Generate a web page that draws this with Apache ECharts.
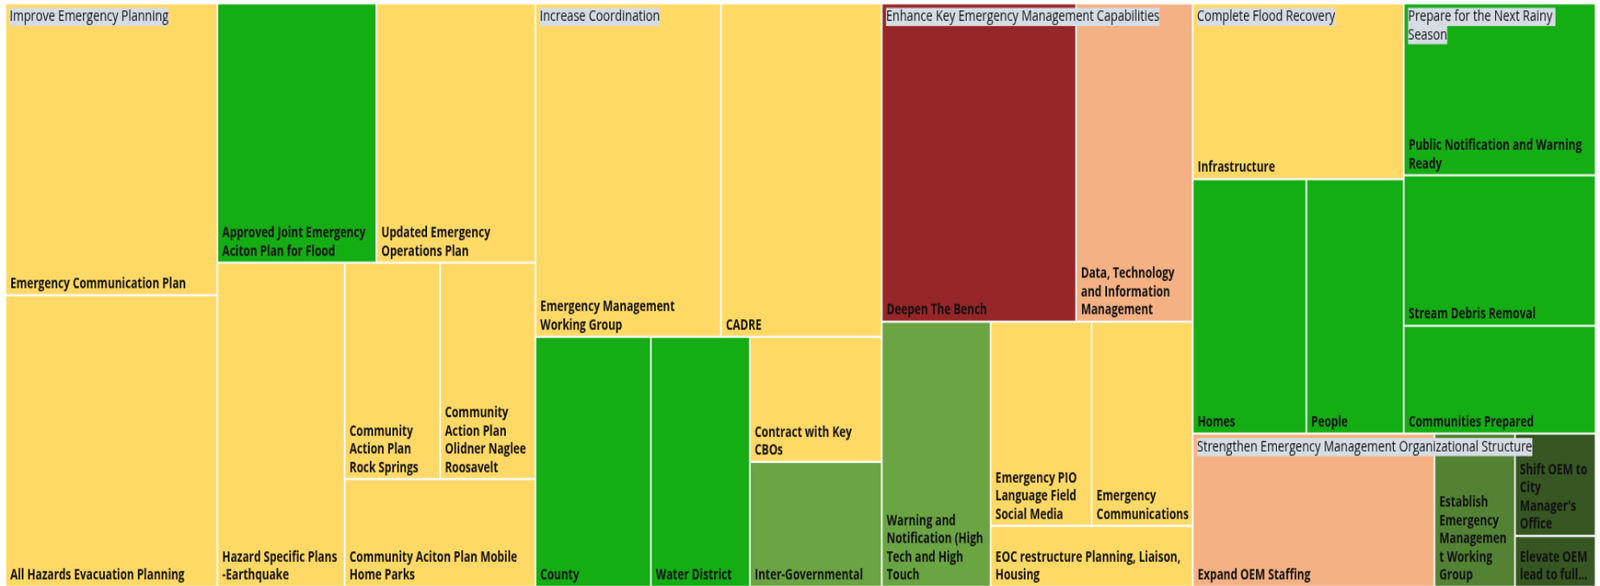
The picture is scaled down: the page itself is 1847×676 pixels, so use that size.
<!DOCTYPE html>
<html>
<head>
<meta charset="utf-8">
<title>Emergency Management Work Plan</title>
<script src="https://cdn.jsdelivr.net/npm/echarts@6.0.0/dist/echarts.min.js"></script>
<style>
  html, body { margin: 0; padding: 0; background: #fff; overflow: hidden; }
  #wrap { width: 1847px; height: 676px; overflow: hidden; }
  /* the reference picture is squeezed sideways, so draw wide and scale */
  #chart { width: 1987px; height: 564px; transform: scale(0.93, 1.2); transform-origin: 0 0; }
</style>
</head>
<body>
<div id="wrap"><div id="chart"></div></div>
<script>
const groupNames = [
  'Improve Emergency Planning',
  'Increase Coordination',
  'Enhance Key Emergency Management Capabilities',
  'Complete Flood Recovery',
  'Prepare for the Next Rainy Season',
  'Strengthen Emergency Management Organizational Structure'
];

const planningNames = ['Emergency Communication Plan', 'All Hazards Evacuation Planning',
  'Approved Joint Emergency Aciton Plan for Flood', 'Updated Emergency Operations Plan',
  'Hazard Specific Plans -Earthquake', 'Community Action Plan Rock Springs',
  'Community Action Plan Olidner Naglee Roosavelt', 'Community Aciton Plan Mobile Home Parks'];
const planningValues = [15, 15, 10, 10, 10, 5, 5, 5];
const planningStatus = ['Y', 'Y', 'G', 'Y', 'Y', 'Y', 'Y', 'Y'];

const coordinationNames = ['Emergency Management Working Group', 'CADRE', 'County', 'Water District',
  'Contract with Key CBOs', 'Inter-Governmental'];
const coordinationValues = [15, 13, 7, 6, 4, 4];
const coordinationStatus = ['Y', 'Y', 'G', 'G', 'Y', 'L'];

const capabilityNames = ['Deepen The Bench', 'Data, Technology and Information Management',
  'Warning and Notification (High Tech and High Touch', 'Emergency PIO Language Field Social Media',
  'Emergency Communications', 'EOC restructure Planning, Liaison, Housing'];
const capabilityValues = [15, 9, 7, 5, 5, 3];
const capabilityStatus = ['R', 'O', 'L', 'Y', 'Y', 'Y'];

const recoveryNames = ['Infrastructure', 'Homes', 'People'];
const recoveryValues = [9, 7, 6];
const recoveryStatus = ['Y', 'G', 'G'];

const rainyNames = ['Public Notification and Warning Ready', 'Stream Debris Removal', 'Communities Prepared'];
const rainyValues = [8, 7, 5];
const rainyStatus = ['G', 'G', 'G'];

const structureNames = ['Expand OEM Staffing', 'Establish Emergency Management Working Group',
  "Shift OEM to City Manager's Office", 'Elevate OEM lead to full...'];
const structureValues = [9, 3, 2, 1];
const structureStatus = ['O', 'M', 'D', 'D'];

const statusColors = {
  G: '#14AD14', Y: '#FFD966', O: '#F4B183', R: '#962627',
  L: '#6AA443', M: '#548235', D: '#375623'
};

function leaves(names, values, status) {
  return names.map((n, i) => ({ name: n, value: values[i], itemStyle: { color: statusColors[status[i]] } }));
}

const groupLeaves = [
  leaves(planningNames, planningValues, planningStatus),
  leaves(coordinationNames, coordinationValues, coordinationStatus),
  leaves(capabilityNames, capabilityValues, capabilityStatus),
  leaves(recoveryNames, recoveryValues, recoveryStatus),
  leaves(rainyNames, rainyValues, rainyStatus),
  leaves(structureNames, structureValues, structureStatus)
];
const treeData = groupNames.map((g, i) => ({ name: g, children: groupLeaves[i] }));
const groupTotals = groupLeaves.map(arr => arr.reduce((s, d) => s + d.value, 0));
const labelData = groupNames.map((g, i) => ({ name: g, value: groupTotals[i], itemStyle: { color: 'rgba(0,0,0,0)' } }));

const box = { left: 7.63, top: 4.17, width: 1971.9, height: 559.2 };
const squareRatio = 1.033;

const option = {
  animation: false,
  series: [
    {
      type: 'treemap',
      z: 1,
      left: box.left, top: box.top, width: box.width, height: box.height,
      squareRatio: squareRatio,
      sort: false,
      roam: false,
      nodeClick: false,
      breadcrumb: { show: false },
      itemStyle: { borderWidth: 0, gapWidth: 2, borderColor: '#fff' },
      upperLabel: { show: false },
      label: {
        show: true,
        position: 'insideBottomLeft',
        distance: 0,
        padding: [0, 4, 1, 5],
        color: '#111',
        fontFamily: 'Open Sans',
        fontWeight: 'bold',
        fontSize: 13.5,
        lineHeight: 17.5,
        overflow: 'break'
      },
      levels: [
        { itemStyle: { borderWidth: 0, gapWidth: 2, borderColor: '#fff' } },
        { itemStyle: { borderWidth: 0, gapWidth: 2, borderColor: '#fff' } },
        { itemStyle: { borderWidth: 0, gapWidth: 2, borderColor: '#fff' } }
      ],
      data: treeData
    },
    {
      // group titles, laid out by the same top-level values
      type: 'treemap',
      z: 5,
      left: box.left, top: box.top, width: box.width, height: box.height,
      squareRatio: squareRatio,
      sort: false,
      roam: false,
      nodeClick: false,
      breadcrumb: { show: false },
      itemStyle: { borderWidth: 0, gapWidth: 2, borderColor: 'rgba(0,0,0,0)', color: 'rgba(0,0,0,0)' },
      levels: [
        { itemStyle: { borderWidth: 0, gapWidth: 2, borderColor: 'rgba(0,0,0,0)' } }
      ],
      label: {
        show: true,
        position: 'insideTopLeft',
        distance: 0,
        padding: [3.3, 20, 0, 4.3],
        overflow: 'break',
        formatter: p => '{t|' + p.name + '}',
        rich: {
          t: {
            backgroundColor: '#D6DCE4',
            color: '#111',
            fontFamily: 'Open Sans',
            fontWeight: 'normal',
            fontSize: 14.5,
            lineHeight: 17.5,
            height: 17.5
          }
        }
      },
      data: labelData
    }
  ]
};

// wait for the font faces so label widths are measured with the right font
let drawn = false;
function draw() {
  if (drawn) return;
  drawn = true;
  const chart = echarts.init(document.getElementById('chart'));
  chart.setOption(option);
}
Promise.all([
  document.fonts.load('normal 14.5px "Open Sans"'),
  document.fonts.load('bold 13.5px "Open Sans"')
]).then(draw, draw);
setTimeout(draw, 1500);
</script>
</body>
</html>
